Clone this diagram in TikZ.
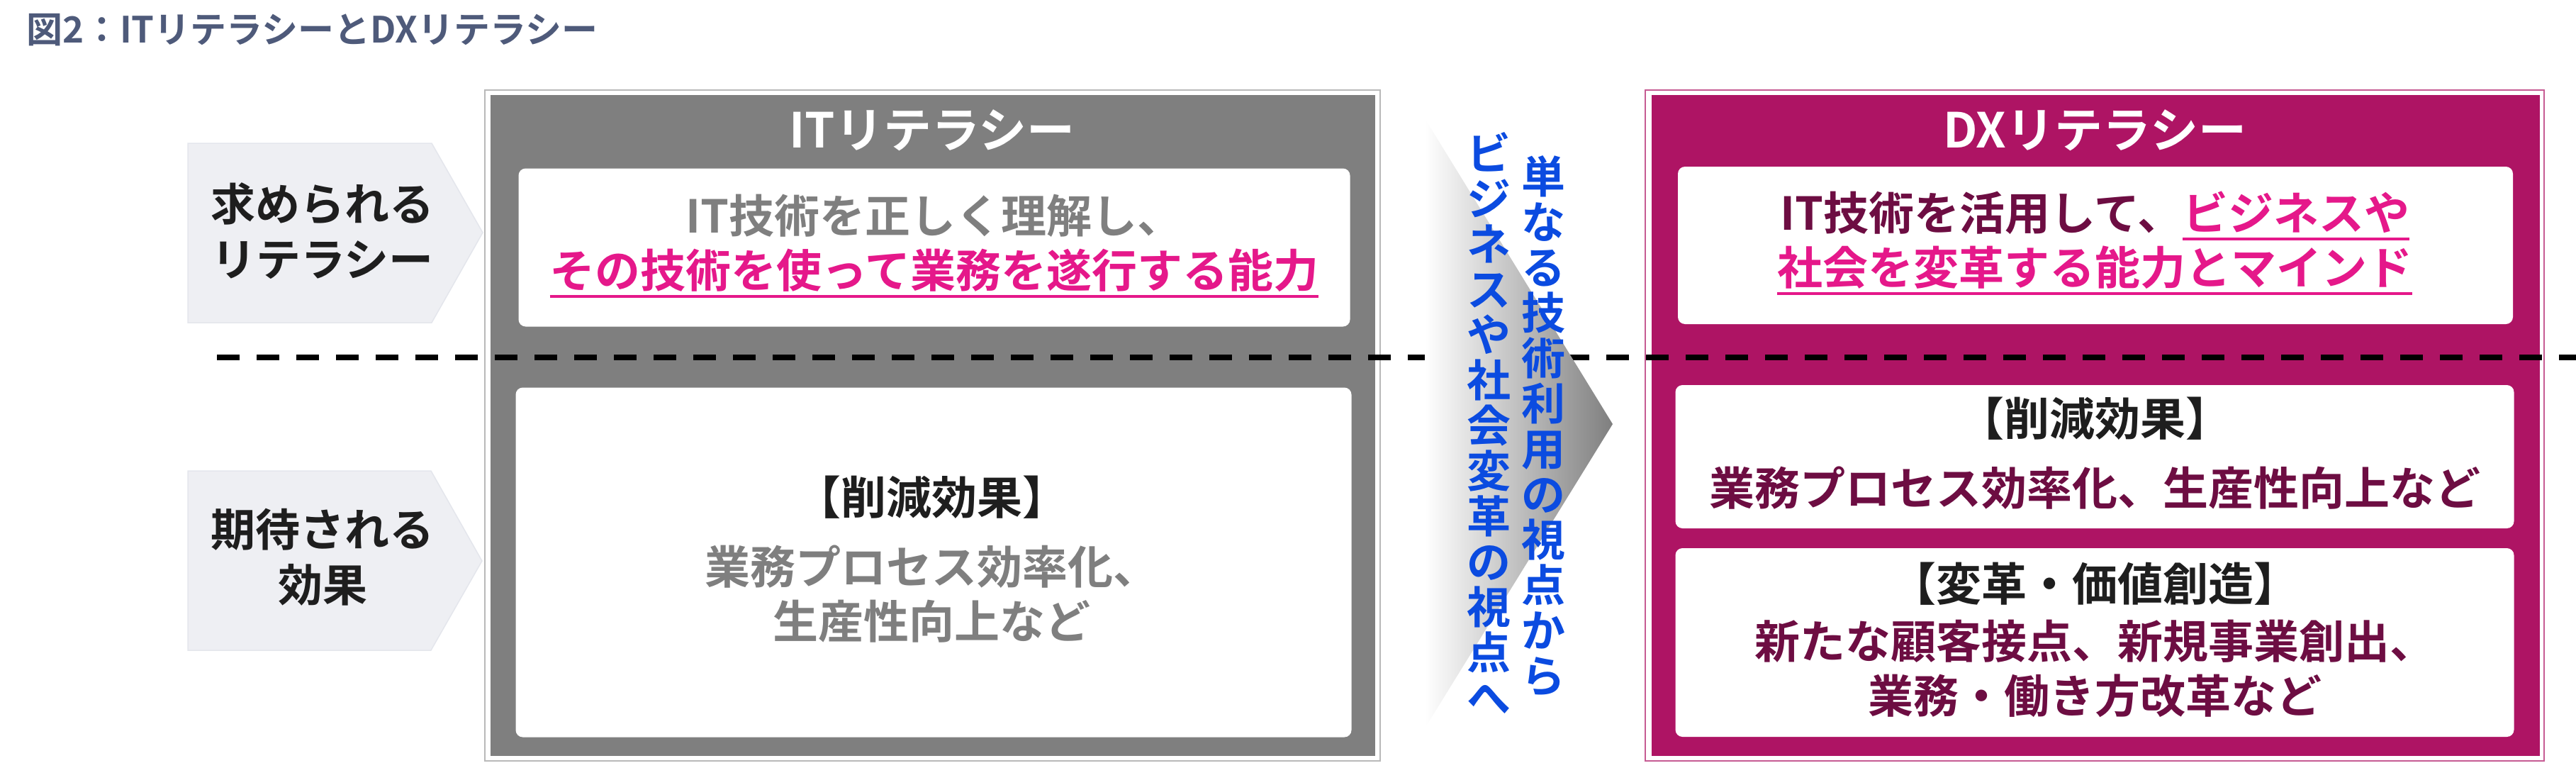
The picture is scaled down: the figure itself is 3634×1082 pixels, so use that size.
\documentclass[tikz,border=0pt]{standalone}
\usepackage{fontspec}
\setmainfont{Noto Sans CJK JP Bold}
\definecolor{titlecol}{HTML}{4E5A7A}
\definecolor{labelfill}{HTML}{EEEFF3}
\definecolor{labeledge}{HTML}{E4E6EC}
\definecolor{panelgray}{HTML}{7F7F7F}
\definecolor{panelmag}{HTML}{AE1464}
\definecolor{pinktext}{HTML}{E5188A}
\definecolor{darkmag}{HTML}{6D0D42}
\definecolor{bluetext}{HTML}{0B4BE0}
\definecolor{blacktext}{HTML}{1E1E1E}
\newcommand\myul[1]{\setbox0\hbox{#1}\rlap{\rule[-15pt]{\wd0}{4pt}}\box0}
\tikzset{
  every node/.style={inner sep=0pt, outer sep=0pt},
  big/.style={font=\fontsize{64}{77}\selectfont, align=center},
  label/.style={align=center, text=blacktext, font=\fontsize{63}{78}\selectfont},
  labelshape/.style={fill=labelfill, draw=labeledge, line width=1.5pt},
  wbox/.style={fill=white, rounded corners=10pt},
  vert/.style={font=\fontsize{62}{64}\selectfont, align=center, text=bluetext},
  ptitle/.style={text=white, font=\fontsize{68}{68}\selectfont},
}
\begin{document}
\begin{tikzpicture}[x=1pt, y=-1pt]
\useasboundingbox (0,0) rectangle (3634,1082);
% title
\node[anchor=west, text=titlecol, font=\fontsize{51}{51}\selectfont] (title) at (37,42) {図2：ITリテラシーとDXリテラシー};
% left labels
\draw[labelshape] (265,202) -- (609,202) -- (681,328) -- (609,455) -- (265,455) -- cycle;
\node[label] (lab1) at (455,326) {求められる\\リテラシー};
\draw[labelshape] (265,664) -- (608,664) -- (680,791) -- (608,917) -- (265,917) -- cycle;
\node[label] (lab2) at (455,786) {期待される\\効果};
% gray panel
\draw[gray!55, line width=2pt] (684,127) rectangle (1947,1073);
\fill[panelgray] (692,134) rectangle (1940,1066);
\node[ptitle] (ittitle) at (1315,184) {ITリテラシー};
\node[wbox, minimum width=1173pt, minimum height=223pt] (gb1) at (1318,349) {};
\node[wbox, minimum width=1179pt, minimum height=493pt] (gb2) at (1317,793) {};
% magenta panel
\draw[panelmag!70, line width=2pt] (2321,127) rectangle (3589,1073);
\fill[panelmag] (2330,134) rectangle (3583,1066);
\node[ptitle] (dxtitle) at (2955,184) {DXリテラシー};
\node[wbox, minimum width=1178pt, minimum height=222pt] (mb1) at (2956,346) {};
\node[wbox, minimum width=1183pt, minimum height=202pt] (mb2) at (2955,644) {};
\node[wbox, minimum width=1183pt, minimum height=266pt] (mb3) at (2955,906) {};
% dashed separator
\coordinate (dl) at (306,504);
\coordinate (dr) at (3634,504);
\draw[black, line width=8pt, dash pattern=on 32pt off 24pt] (dl) -- (dr);
% gradient arrow
\shade[left color=white, right color=panelgray] (2010,167) -- (2275,598) -- (2010,1027) -- cycle;
% vertical texts
\node[vert] (v1) at (2177,601) {単\\な\\る\\技\\術\\利\\用\\の\\視\\点\\か\\ら};
\node[vert] (v2) at (2100,597) {ビ\\ジ\\ネ\\ス\\や\\社\\会\\変\\革\\の\\視\\点\\へ};
% gray panel texts
\node[big] (g1) at (1318,347) {\textcolor{panelgray}{IT技術を正しく理解し、}\\\textcolor{pinktext}{\myul{その技術を使って業務を遂行する能力}}};
\node[big, text=blacktext] (g2a) at (1314,701) {【削減効果】};
\node[big, text=panelgray] (g2b) at (1314,838) {業務プロセス効率化、\\生産性向上など};
% magenta panel texts
\node[big] (m1) at (2955,343) {\textcolor{darkmag}{IT技術を活用して、}\textcolor{pinktext}{\myul{ビジネスや}}\\\textcolor{pinktext}{\myul{社会を変革する能力とマインド}}};
\node[big, text=blacktext] (m2a) at (2955,590) {【削減効果】};
\node[big, text=darkmag] (m2b) at (2955,688) {業務プロセス効率化、生産性向上など};
\node[big, text=blacktext] (m3a) at (2955,823) {【変革・価値創造】};
\node[big, text=darkmag] (m3b) at (2955,943) {新たな顧客接点、新規事業創出、\\業務・働き方改革など};
\end{tikzpicture}
\end{document}
